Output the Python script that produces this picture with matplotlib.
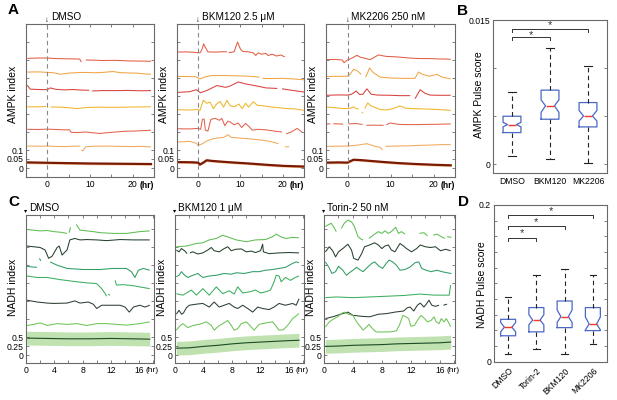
import numpy as np
import matplotlib
matplotlib.use('Agg')
import matplotlib.pyplot as plt

plt.rcParams['font.family'] = ['Liberation Sans', 'DejaVu Sans']

W, H = 617, 400
N = None

# ---------------- AMPK traces (hr, AMPK index) ----------------
ampk_titles = ['DMSO', 'BKM120 2.5 \u03bcM', 'MK2206 250 nM']
ampk_colors = ['#e25d45', '#f0a444', '#d9403c', '#efb52a', '#e2614c', '#f2a85a']

ampk_dmso = [
    [(-4.7, .609), (-2, .611), (0, .611), (2, .608), (4, .607), (6, .606), (7.6, .605), (8.0, .588), (N, N),
     (9, .600), (11, .599), (13, .597), (16, .598), (19, .595), (22, .594), (24.3, .593)],
    [(-4.7, .533), (-2, .534), (0, .531), (1.5, .529), (3, .521), (5, .527), (7, .530), (9, .531), (11, .529),
     (13, .531), (15.4, .536), (17, .530), (19, .528), (21, .527), (23, .522), (24.3, .521)],
    [(-4.7, .46), (-4.4, .45), (-4, .438), (-2, .436), (0, .435), (0.7, .445), (2, .437), (4, .434), (6, .436),
     (8, .433), (9.8, .432), (N, N), (10.5, .428), (13, .43), (16, .43), (19, .431), (22, .429), (24.3, .43)],
    [(-4.7, .34), (-2, .34), (-0.3, .342), (N, N), (0.8, .339), (3, .338), (5, .335), (7, .33), (9, .336),
     (12, .338), (15, .337), (18, .338), (21, .339), (24.3, .34)],
    [(-4.7, .215), (-2, .214), (0, .216), (2, .214), (4, .212), (5.2, .212), (5.6, .198), (7, .197), (9, .2),
     (10.5, .196), (12.3, .192), (14, .196), (16, .2), (18, .204), (20, .205), (22, .207), (24.3, .21)],
    [(-4.7, .122), (-2, .121), (0, .122), (2, .12), (4, .119), (6, .121), (7.7, .122), (N, N), (8.0, .10),
     (8.3, .095), (9, .118), (11, .121), (14, .122), (17, .12), (20, .119), (22, .12), (24.3, .117)],
]
ampk_dmso_mean = [(-4.7, .031), (0, .029), (5, .027), (10, .025), (15, .024), (20, .023), (24.3, .022)]

ampk_bkm = [
    [(-4.8, .644), (-3, .645), (-1, .643), (0, .640), (0.5, .641), (1.0, .665), (1.3, .690), (1.7, .67),
     (2.3, .645), (4, .644), (6, .646), (6.8, .645), (N, N), (7.2, .64), (8.5, .646), (9.3, .700), (10, .66),
     (10.5, .648), (12, .645), (13, .640), (13.6, .625), (14.2, .640), (15, .632), (16, .637), (16.5, .625),
     (17.5, .632), (18.5, .622), (19.5, .628), (20.5, .617)],
    [(-4.8, .509), (-2, .508), (-0.5, .507), (0.4, .494), (1.5, .505), (3, .513), (6, .514), (9, .512),
     (12, .510), (14.5, .505), (N, N), (15.2, .498), (17, .497), (20, .498), (23, .494), (25, .490)],
    [(-4.8, .42), (-2, .424), (-0.4, .435), (0.5, .418), (2, .43), (4.4, .458), (6.5, .448), (7.5, .455),
     (9.5, .478), (11, .468), (14, .455), (16, .445), (18.7, .442), (N, N), (19.8, .44), (22, .432), (25, .422)],
    [(-4.8, .324), (-2, .322), (0, .325), (0.4, .318), (1.2, .376), (2, .36), (2.8, .366), (3.6, .33),
     (4.4, .357), (5.2, .37), (6, .338), (6.8, .376), (7.6, .345), (8.6, .341), (9.6, .355), (10.4, .33),
     (11.2, .36), (11.9, .338), (13, .368), (14, .348), (15.5, .345), (17, .34), (19, .335), (21, .33),
     (23, .328), (25, .32)],
    [(-4.8, .218), (-2, .217), (0, .22), (0.6, .215), (1.0, .27), (1.4, .272), (1.7, .21), (2.3, .205),
     (3, .27), (4, .276), (5, .265), (5.6, .275), (6.3, .235), (7, .26), (7.6, .255), (8.5, .24), (9.4, .25),
     (10.3, .225), (11.2, .248), (12, .23), (12.8, .21), (14, .215), (16, .212), (18, .205), (19.8, .2), (N, N),
     (20.8, .19), (22, .2), (23.4, .22), (24.5, .2)],
    [(-4.8, .144), (-2, .148), (-0.5, .138), (0, .126), (1, .135), (2, .15), (3.6, .163), (5, .168), (6, .17),
     (7.1, .185), (7.8, .17), (9, .168), (11, .164), (13, .16), (15, .155), (17, .148), (19, .135), (N, N),
     (20.5, .118), (21.5, .118)],
]
ampk_bkm_mean = [(-4.8, .033), (-2, .032), (0, .03), (0.4, .019), (1.2, .03), (2, .043), (3, .04), (5, .036),
                 (8, .031), (12, .025), (16, .018), (20, .012), (25, .008)]

ampk_mk = [
    [(-4.8, .602), (-3, .603), (-1.2, .6), (-0.8, .585), (0, .6), (1, .61), (2.2, .626), (3, .615), (4, .61),
     (5.3, .602), (6.2, .615), (7.2, .628), (9, .62), (11, .618), (13, .614), (15, .61), (17, .608), (19, .608),
     (21, .606), (23, .605), (24, .604)],
    [(-4.8, .509), (-2, .509), (0, .51), (0.6, .52), (1.4, .548), (2.3, .54), (3.2, .52), (N, N), (4.2, .505),
     (4.7, .53), (5.1, .556), (6, .53), (7.6, .505), (10, .5), (13, .498), (15.7, .498), (16.5, .533),
     (17.5, .52), (19, .51), (20.8, .52), (22, .505), (24, .495)],
    [(-4.8, .404), (-2, .406), (0, .405), (1, .41), (2, .428), (2.8, .408), (3.6, .41), (4.5, .44), (5.5, .41),
     (7, .405), (10, .404), (12, .402), (14.6, .402), (N, N), (15.7, .385), (16.9, .435), (18, .415),
     (19.2, .405), (21, .404), (24, .404)],
    [(-5, .339), (-3, .335), (-1, .33), (0.5, .33), (1.4, .34), (2, .33), (2.6, .328), (N, N), (3.3, .31),
     (3.6, .305), (N, N), (4.0, .33), (4.7, .361), (5.5, .345), (7.6, .325), (9, .322), (10.6, .33),
     (12.2, .345), (13.5, .332), (15, .33), (18, .328), (21, .325), (24, .32)],
    [(-4.8, .245), (-4.0, .245), (N, N), (-3.3, .246), (-1, .244), (N, N), (0.2, .245), (2, .247), (3.5, .242),
     (N, N), (4.4, .237), (6, .238), (8.4, .237), (N, N), (9.0, .24), (9.9, .25), (12, .242), (15, .241),
     (18, .242), (21, .243), (24, .245)],
    [(-4.8, .12), (-2, .121), (0, .122), (2, .126), (4.5, .135), (6.5, .12), (7.6, .115), (8.1, .1), (N, N),
     (8.8, .12), (11, .122), (14, .123), (17, .126), (20, .128), (22, .13), (24, .13)],
]
ampk_mk_mean = [(-4.8, .03), (-2, .031), (0, .03), (0.5, .036), (1.4, .046), (3, .044), (5, .04), (8, .034),
                (12, .027), (16, .022), (20, .018), (24, .015)]
ampk_sem = 0.007

# ---------------- NADH traces (hr, NADH index) ----------------
nadh_titles = ['DMSO', 'BKM120 1 \u03bcM', 'Torin-2 50 nM']
nadh_colors = ['#5dbd52', '#25412d', '#2f9c62', '#3bae5f', '#2c3f31', '#6cc456']

nadh_dmso = [
    [(0.14, 3.48), (1.0, 3.46), (2.0, 3.44), (3.0, 3.45), (3.9, 3.42), (5.0, 3.40), (5.8, 3.37), (N, N),
     (6.1, 3.39), (6.3, 3.54), (N, N), (7.1, 3.62), (7.65, 3.46), (8.6, 3.44), (9.5, 3.42), (10.5, 3.39),
     (12.3, 3.37), (14.2, 3.37), (16.1, 3.42), (17.5, 3.44)],
    [(0.14, 3.02), (1.1, 3.0), (2.0, 2.98), (2.7, 2.91), (3.2, 2.68), (3.7, 2.74), (4.4, 2.98), (4.7, 3.02),
     (5.1, 2.77), (5.8, 2.91), (6.2, 3.19), (6.9, 3.23), (7.65, 3.19), (8.6, 3.20), (10, 3.19), (11.4, 3.17),
     (13.3, 3.20), (15.2, 3.19), (17.5, 3.19)],
    [(0.14, 2.46), (0.85, 2.44), (1.55, 2.43), (N, N), (1.9, 2.68), (2.1, 2.61), (N, N), (3.4, 2.58),
     (4.4, 2.49), (5.8, 2.40), (8.1, 2.37), (10.5, 2.37), (12.3, 2.40), (14.2, 2.40), (14.9, 2.31),
     (15.4, 2.15), (15.9, 2.35), (16.6, 2.40), (17.5, 2.35)],
    [(0.14, 2.19), (1.55, 2.15), (3.0, 2.15), (4.8, 2.09), (7.2, 2.03), (8.6, 2.0), (10, 1.98), (10.7, 1.84),
     (11.2, 1.70), (11.4, 1.63), (N, N), (11.6, 1.68), (11.9, 1.66), (N, N), (12.6, 2.07), (12.8, 1.94),
     (13.8, 1.95), (15.2, 1.92), (16.6, 1.87), (17.5, 1.84)],
    [(0.14, 1.52), (1.55, 1.47), (3.0, 1.44), (3.9, 1.43), (5.8, 1.44), (6.9, 1.50), (7.65, 1.44), (8.8, 1.47),
     (9.5, 1.41), (10, 1.29), (10.7, 1.38), (11.9, 1.38), (13.3, 1.38), (14.0, 1.33), (14.6, 1.19),
     (15.2, 1.33), (16.1, 1.38), (16.8, 1.33), (17.5, 1.38)],
    [(0.14, 0.82), (1.1, 0.85), (2.0, 0.89), (3.0, 0.82), (4.4, 0.87), (5.8, 0.85), (7.2, 0.87), (8.6, 0.82),
     (10, 0.87), (11.4, 0.87), (12.8, 0.85), (14.2, 0.83), (16.1, 0.87), (17.5, 0.92)],
]
nadh_dmso_mean = [(0.1, 0.47), (3, 0.46), (6, 0.45), (9, 0.45), (12, 0.46), (15, 0.45), (17.5, 0.44)]

nadh_bkm = [
    [(0.19, 3.0), (1.6, 3.02), (3.0, 3.09), (3.9, 3.11), (4.8, 3.19), (5.8, 3.23), (6.7, 3.32), (7.6, 3.26),
     (8.6, 3.19), (10, 3.14), (11.3, 3.19), (12.7, 3.2), (13.7, 3.28), (14.2, 3.35), (14.8, 3.28), (15.5, 3.23),
     (16.5, 3.26), (17.4, 3.25)],
    [(0.19, 2.91), (0.56, 2.86), (0.9, 2.95), (1.35, 2.89), (1.7, 2.81), (N, N), (2.1, 2.83), (2.5, 2.86),
     (3.2, 2.80), (3.9, 2.83), (4.6, 2.91), (5.1, 2.98), (5.5, 2.89), (6.2, 2.86), (6.9, 2.95), (7.4, 3.0),
     (7.9, 2.89), (8.5, 2.93), (9.3, 2.94), (10, 2.86), (10.7, 2.88), (11.3, 2.84), (12.0, 2.89), (12.3, 3.07),
     (12.4, 2.86), (13.2, 2.81), (14.6, 2.83), (16, 2.84), (17.4, 2.83)],
    [(0.19, 2.17), (0.56, 2.21), (0.9, 2.31), (1.35, 2.21), (1.8, 2.15), (2.5, 2.21), (3.2, 2.26), (3.9, 2.15),
     (4.8, 2.19), (5.8, 2.21), (6.9, 2.26), (7.9, 2.24), (8.6, 2.28), (9.7, 2.26), (10.9, 2.31), (11.8, 2.31),
     (12.7, 2.35), (13.7, 2.37), (14.6, 2.40), (15.5, 2.43), (16.5, 2.54), (17.0, 2.58), (17.4, 2.56)],
    [(0.19, 1.70), (1.1, 1.66), (2.3, 1.80), (3.0, 1.66), (3.9, 1.84), (4.8, 1.66), (5.8, 1.89), (6.7, 1.70),
     (7.6, 1.78), (8.3, 1.69), (8.8, 1.89), (9.5, 1.72), (10.4, 1.75), (11.3, 1.80), (12.0, 1.72), (12.7, 1.75),
     (13.4, 1.80), (13.9, 2.03), (14.2, 2.21), (14.6, 2.19), (14.9, 2.03), (15.5, 2.15), (16.2, 2.07),
     (16.9, 2.15), (17.4, 2.19)],
    [(0.19, 1.13), (0.56, 1.24), (0.93, 1.13), (1.2, 1.17), (1.6, 1.31), (2.0, 1.38), (3.0, 1.41), (3.9, 1.43),
     (4.8, 1.33), (5.5, 1.47), (6.2, 1.33), (6.9, 1.38), (7.6, 1.43), (8.3, 1.33), (8.8, 1.29), (9.5, 1.38),
     (10.2, 1.29), (10.9, 1.19), (11.6, 1.33), (12.3, 1.29), (13.2, 1.26), (13.9, 1.33), (14.6, 1.43),
     (15.5, 1.38), (16.5, 1.43), (17.0, 1.38), (17.4, 1.56)],
    [(0.19, 0.69), (0.65, 0.80), (1.1, 0.87), (1.8, 0.76), (2.5, 0.82), (3.4, 0.85), (4.4, 0.92), (5.1, 0.82),
     (5.5, 0.69), (6.1, 0.80), (6.7, 0.87), (7.4, 0.96), (7.9, 0.82), (8.3, 0.69), (8.8, 0.73), (9.3, 0.87),
     (10, 0.92), (10.5, 0.82), (11.1, 0.69), (11.8, 0.85), (12.7, 0.89), (13.7, 0.92), (14.1, 0.82),
     (14.6, 0.69), (15.2, 0.70), (15.8, 0.82), (16.5, 1.01), (16.9, 1.07), (17.4, 1.15)],
]
nadh_bkm_mean = [(0.2, 0.19), (2, 0.2), (4, 0.24), (6, 0.27), (8, 0.31), (10, 0.34), (12, 0.36), (14, 0.38),
                 (16, 0.40), (17.4, 0.41)]

nadh_torin = [
    [(0.19, 3.56), (0.5, 3.60), (1.0, 3.65), (1.3, 3.56), (1.7, 3.42), (N, N), (2.4, 3.51), (2.8, 3.65),
     (3.3, 3.74), (3.8, 3.69), (4.2, 3.56), (4.7, 3.28), (5.2, 3.20), (5.4, 3.19), (N, N), (6.2, 3.23),
     (6.8, 3.32), (7.5, 3.42), (8.0, 3.37), (8.4, 3.44), (8.9, 3.37), (9.3, 3.42), (9.9, 3.54), (10.3, 3.37),
     (10.7, 3.42), (11.2, 3.35), (N, N), (13.2, 3.37), (13.8, 3.39), (14.3, 3.30), (N, N), (15.1, 3.32),
     (15.6, 3.35), (16.2, 3.28), (16.7, 3.23), (N, N), (17.0, 3.28), (17.6, 3.26)],
    [(0.19, 2.86), (0.74, 3.0), (1.2, 2.89), (1.6, 2.72), (2.0, 2.86), (2.6, 2.95), (3.3, 3.07), (3.8, 2.91),
     (4.1, 2.68), (4.7, 2.63), (5.2, 2.81), (5.6, 3.0), (6.3, 3.05), (7.0, 3.11), (7.5, 3.05), (8.0, 2.95),
     (8.4, 3.02), (8.9, 3.05), (9.3, 2.91), (9.8, 2.86), (10.5, 3.09), (11.0, 3.02), (11.4, 2.95), (12.1, 2.86),
     (12.8, 2.95), (13.3, 3.05), (14.0, 3.0), (14.7, 2.98), (15.4, 3.0), (16.1, 2.89), (16.8, 2.93),
     (17.5, 2.89)],
    [(0.19, 2.58), (0.65, 2.44), (1.1, 2.26), (1.6, 2.31), (2.0, 2.46), (2.6, 2.35), (3.1, 2.21), (3.5, 2.28),
     (4.0, 2.35), (4.5, 2.43), (4.9, 2.37), (5.4, 2.31), (6.0, 2.43), (6.6, 2.54), (7.0, 2.58), (7.6, 2.46),
     (8.1, 2.40), (8.6, 2.54), (9.0, 2.63), (9.5, 2.58), (10.0, 2.49), (10.5, 2.35), (11.2, 2.37), (11.9, 2.44),
     (12.6, 2.56), (13.1, 2.58), (13.5, 2.40), (14.1, 2.35), (14.8, 2.31), (15.6, 2.35), (16.3, 2.31),
     (17.0, 2.28), (17.6, 2.26)],
    [(0.19, 1.59), (1.7, 1.61), (4.0, 1.59), (6.3, 1.61), (8.7, 1.63), (11.0, 1.65), (13.3, 1.69), (15.2, 1.66),
     (17.3, 1.66), (17.5, 1.94)],
    [(0.19, 1.01), (1.2, 1.06), (2.6, 1.15), (3.3, 1.19), (4.0, 1.10), (5.4, 1.07), (6.3, 1.06), (7.5, 1.13),
     (8.7, 1.15), (9.8, 1.19), (11.0, 1.22), (11.5, 1.31), (11.9, 1.33), (12.4, 1.22), (12.9, 1.38),
     (13.3, 1.44), (13.8, 1.33), (14.2, 1.43), (14.5, 1.52), (14.9, 1.38), (15.4, 1.35), (15.9, 1.38), (N, N),
     (16.5, 1.38), (17.0, 1.41)],
    [(0.19, 0.78), (0.74, 0.92), (1.4, 1.01), (1.9, 1.06), (2.4, 1.15), (2.8, 1.19), (3.4, 1.13), (4.0, 1.10),
     (4.5, 0.92), (4.9, 0.82), (5.4, 0.69), (5.9, 0.78), (6.2, 0.85), (6.7, 0.73), (7.2, 0.64), (8.2, 0.64),
     (9.1, 0.64), (10.0, 0.67), (10.4, 0.82), (10.9, 1.10), (11.3, 1.06), (11.7, 1.01), (12.0, 0.80),
     (12.5, 0.82), (12.9, 0.96), (13.4, 1.10), (13.9, 1.01), (14.3, 0.92), (14.8, 0.96), (15.2, 1.06),
     (15.5, 0.92), (15.9, 0.87), (16.2, 1.01), (16.6, 0.92), (16.9, 1.01), (17.3, 0.87), (17.5, 0.78)],
]
nadh_torin_mean = [(0.2, 0.24), (2, 0.25), (4, 0.27), (6, 0.28), (8, 0.29), (10, 0.31), (12, 0.32), (14, 0.33),
                   (16, 0.34), (17.5, 0.36)]
nadh_sem = 0.19

# ---------------- pulse score box plots ----------------
b_groups = ['DMSO', 'BKM120', 'MK2206']
b_whislo = [0.00087, 0.00059, 0.00014]
b_q1 = [0.0033, 0.00469, 0.00389]
b_med = [0.00413, 0.00608, 0.00503]
b_q3 = [0.0050, 0.00771, 0.00642]
b_whishi = [0.00753, 0.0121, 0.01024]
b_cilo = [0.0039, 0.0054, 0.0045]
b_cihi = [0.00436, 0.0067, 0.0056]

d_groups = ['DMSO', 'Torin-2', 'BKM120', 'MK2206']
d_whislo = [0.0098, 0.0157, 0.0098, 0.0226]
d_q1 = [0.033, 0.038, 0.0434, 0.0396]
d_med = [0.044, 0.053, 0.0574, 0.048]
d_q3 = [0.054, 0.069, 0.0774, 0.069]
d_whishi = [0.083, 0.11, 0.118, 0.11]
d_cilo = [0.038, 0.047, 0.050, 0.0405]
d_cihi = [0.050, 0.060, 0.066, 0.057]


def place(l, t, r, b):
    return fig.add_axes([l / W, 1 - b / H, (r - l) / W, (b - t) / H])


def style(ax):
    for s in ax.spines.values():
        s.set_color('#6a6a6a')
        s.set_linewidth(0.8)
    ax.tick_params(direction='in', length=2, width=0.6, color='#6a6a6a', labelsize=6.2, pad=2,
                   top=True, right=True)


def draw_lines(ax, traces, colors, lw):
    for tr, c in zip(traces, colors):
        a = np.array(tr, dtype=float)
        ax.plot(a[:, 0], a[:, 1], color=c, lw=lw, solid_capstyle='butt')


def draw_mean(ax, mean, sem, band, line, lw):
    a = np.array(mean, dtype=float)
    ax.fill_between(a[:, 0], a[:, 1] - sem, a[:, 1] + sem, color=band, lw=0)
    ax.plot(a[:, 0], a[:, 1], color=line, lw=lw)


def draw_box(ax, lo, q1, med, q3, hi, cilo, cihi, width):
    stats = []
    for i in range(len(med)):
        stats.append(dict(whislo=lo[i], q1=q1[i], med=med[i], q3=q3[i], whishi=hi[i],
                          cilo=cilo[i], cihi=cihi[i], fliers=[]))
    ax.bxp(stats, positions=range(1, len(med) + 1), widths=width, shownotches=True, showfliers=False,
           boxprops=dict(color='#4a68c4', lw=0.9), medianprops=dict(color='#f03a2a', lw=1.0),
           whiskerprops=dict(color='#222222', lw=0.8, ls=(0, (4, 3))),
           capprops=dict(color='#222222', lw=0.8), capwidths=width * 0.45)


def bracket(ax, x1, x2, y, d, ystar):
    ax.plot([x1, x1, x2, x2], [y - d, y, y, y - d], color='#333333', lw=0.7)
    ax.text((x1 + x2) / 2, ystar, '*', ha='center', va='center', fontsize=8, color='#333333')


fig = plt.figure(figsize=(W / 100, H / 100), dpi=100)

# ---------- panel A ----------
a_boxes = [(26, 24, 154, 177), (177, 24, 304, 177), (326, 24, 455, 177)]
a_data = [(ampk_dmso, ampk_dmso_mean), (ampk_bkm, ampk_bkm_mean), (ampk_mk, ampk_mk_mean)]
for k in range(3):
    ax = place(*a_boxes[k])
    traces, mean = a_data[k]
    draw_mean(ax, mean, ampk_sem, '#f9c8a2', '#7a1a05', 1.6)
    draw_lines(ax, traces, ampk_colors, 0.75)
    ax.axvline(0, color='#888888', lw=0.8, ls=(0, (4, 3)))
    ax.set_xlim(-5, 25)
    ax.set_ylim(-0.05, 0.8)
    ax.set_xticks([-5, 0, 5, 10, 15, 20, 25])
    ax.set_xticklabels(['', '0', '', '10', '', '20', ''])
    ax.set_yticks([0, 0.05, 0.1, 0.2, 0.3, 0.4, 0.5, 0.6, 0.7])
    ax.set_yticklabels(['0', '0.05', '0.1', '', '', '', '', '', ''])
    style(ax)
    ax.set_ylabel('AMPK index', fontsize=7.5)
    ax.yaxis.set_label_coords(-0.06, 0.54)
    ax.annotate('(hr)', xy=(1, 0), xycoords='axes fraction', xytext=(0, -2.8), textcoords='offset points',
                ha='right', va='top', fontsize=6.2, fontweight='bold')
    ax.text(0, 1.0, '\u2193', transform=ax.get_xaxis_transform(), ha='center', va='bottom', fontsize=5.5)
    ax.text(0.9, 1.01, ampk_titles[k], transform=ax.get_xaxis_transform(), ha='left', va='bottom',
            fontsize=7.2)
fig.text(8 / W, 1 - 14 / H, 'A', fontsize=11, fontweight='bold')

# ---------- panel B ----------
ax = place(493, 20, 607, 173)
draw_box(ax, b_whislo, b_q1, b_med, b_q3, b_whishi, b_cilo, b_cihi, 0.47)
bracket(ax, 1, 2, 0.0132, 0.0003, 0.01345)
bracket(ax, 1, 3, 0.0141, 0.0003, 0.0145)
ax.set_xlim(0.5, 3.5)
ax.set_ylim(-0.0009, 0.015)
ax.set_yticks([0, 0.005, 0.01, 0.015])
ax.set_yticklabels(['0', '', '', '0.015'])
ax.set_xticks([1, 2, 3])
ax.set_xticklabels(b_groups)
style(ax)
ax.tick_params(axis='x', length=0, pad=3)
ax.set_ylabel('AMPK Pulse score', fontsize=7.5)
ax.yaxis.set_label_coords(-0.075, 0.51)
fig.text(457 / W, 1 - 15 / H, 'B', fontsize=11, fontweight='bold')

# ---------- panel C ----------
c_boxes = [(26, 215, 154, 363), (175, 215, 304, 363), (324, 215, 455, 363)]
c_data = [(nadh_dmso, nadh_dmso_mean), (nadh_bkm, nadh_bkm_mean), (nadh_torin, nadh_torin_mean)]
for k in range(3):
    ax = place(*c_boxes[k])
    traces, mean = c_data[k]
    draw_mean(ax, mean, nadh_sem, '#bfe2b0', '#1e4a26', 0.8)
    draw_lines(ax, traces, nadh_colors, 0.75)
    ax.set_xlim(0, 18.1)
    ax.set_ylim(-0.22, 3.88)
    ax.set_xticks([0, 2, 4, 6, 8, 10, 12, 14, 16, 18])
    ax.set_xticklabels(['0', '', '4', '', '8', '', '12', '', '16', ''])
    ax.set_yticks([0, 0.25, 0.5, 1, 1.5, 2, 2.5, 3, 3.5])
    ax.set_yticklabels(['0', '0.25', '0.5', '', '', '', '', '', ''])
    style(ax)
    ax.set_ylabel('NADH index', fontsize=7.5)
    ax.yaxis.set_label_coords(-0.06, 0.51)
    ax.annotate('(hr)', xy=(1, 0), xycoords='axes fraction', xytext=(3, -2.8), textcoords='offset points',
                ha='right', va='top', fontsize=6.0)
    ax.text(0.0, 1.012, '\u25be', transform=ax.transAxes, ha='center', va='bottom', fontsize=4.5)
    ax.text(0.022, 1.012, nadh_titles[k], transform=ax.transAxes, ha='left', va='bottom', fontsize=7.2)
fig.text(8 / W, 1 - 206 / H, 'C', fontsize=11, fontweight='bold')

# ---------- panel D ----------
ax = place(494, 205, 607, 362)
draw_box(ax, d_whislo, d_q1, d_med, d_q3, d_whishi, d_cilo, d_cihi, 0.53)
bracket(ax, 1, 2, 0.158, 0.004, 0.164)
bracket(ax, 1, 3, 0.173, 0.004, 0.178)
bracket(ax, 1, 4, 0.187, 0.004, 0.192)
ax.set_xlim(0.5, 4.5)
ax.set_ylim(-0.0005, 0.2)
ax.set_yticks([0, 0.02, 0.04, 0.06, 0.08, 0.1, 0.12, 0.14, 0.16, 0.18, 0.2])
ax.set_yticklabels(['0', '', '', '', '', '', '', '', '', '', '0.2'])
ax.set_xticks([1, 2, 3, 4])
ax.set_xticklabels(d_groups, rotation=45, ha='right', rotation_mode='anchor')
style(ax)
ax.tick_params(axis='x', length=0, pad=3)
ax.set_ylabel('NADH Pulse score', fontsize=7.5)
ax.yaxis.set_label_coords(-0.058, 0.49)
fig.text(458 / W, 1 - 206 / H, 'D', fontsize=11, fontweight='bold')

fig.savefig('out.png', dpi=100)
